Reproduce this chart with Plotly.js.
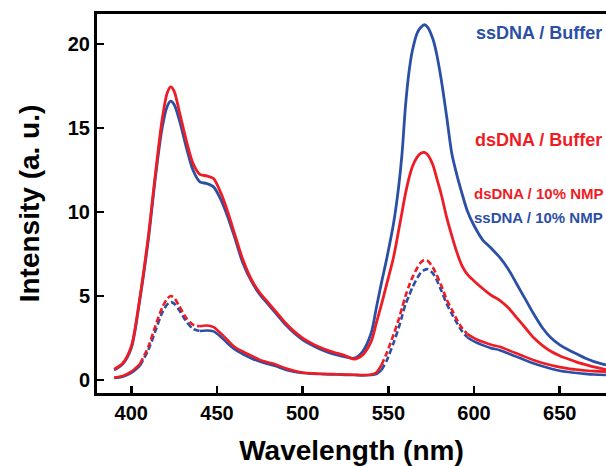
<!DOCTYPE html>
<html>
<head>
<meta charset="utf-8">
<script src="https://cdn.plot.ly/plotly-3.0.1.min.js"></script>
<style>html,body{margin:0;padding:0;background:#fff;}#chart{width:606px;height:466px;}</style>
</head>
<body>
<div id="chart"></div>
<script>
// Wavelength grid (nm)
var wavelength = [390,395,400,405,410,414,418,421,423,425,428,432,436,440,444,448,452,456,460,465,470,475,480,485,490,495,500,505,510,515,520,525,530,535,540,543,546,549,553,556,558,560,562,564,567,569,571,573,576,578,581,584,587,590,593,596,600,605,610,615,620,625,630,635,640,645,650,655,660,665,670,677];

// ssDNA / Buffer (blue, solid)
var ssBuffer = [0.6,0.95,1.9,4.8,8.4,12.0,15.0,16.3,16.6,16.4,15.5,13.9,12.5,11.8,11.7,11.5,10.8,9.8,8.6,7.0,5.9,5.1,4.5,3.9,3.3,2.8,2.4,2.1,1.85,1.65,1.5,1.38,1.3,1.7,2.8,4.3,5.8,7.2,9.3,11.5,13.5,16.3,18.3,19.6,20.7,21.0,21.15,21.0,20.3,19.5,17.8,15.7,13.5,12.2,11.1,10.1,9.2,8.35,7.85,7.3,6.6,5.7,4.8,3.9,3.1,2.5,2.1,1.8,1.55,1.3,1.1,0.9];

// dsDNA / Buffer (red, solid)
var dsBuffer = [0.65,1.0,2.0,4.9,8.6,12.2,15.5,17.1,17.45,17.2,16.0,14.3,12.9,12.25,12.15,12.0,11.2,10.1,8.8,7.2,6.0,5.2,4.6,4.0,3.4,2.9,2.5,2.2,1.95,1.75,1.6,1.45,1.25,1.5,2.3,3.4,4.5,5.7,7.3,8.9,10.0,11.1,12.0,12.7,13.3,13.5,13.55,13.4,12.8,12.1,11.0,9.7,8.6,7.6,6.8,6.3,5.9,5.45,5.05,4.75,4.3,3.7,3.1,2.5,2.05,1.7,1.45,1.25,1.07,0.92,0.78,0.62];

// dsDNA / 10% NMP (red)
var dsNMP = [0.15,0.25,0.5,0.95,2.0,3.2,4.3,4.85,5.0,4.9,4.4,3.7,3.3,3.2,3.25,3.15,2.8,2.4,2.0,1.7,1.45,1.2,1.05,0.9,0.7,0.55,0.45,0.4,0.38,0.36,0.35,0.33,0.32,0.3,0.33,0.45,0.9,1.6,2.7,3.6,4.3,5.0,5.6,6.1,6.7,7.0,7.15,7.1,6.7,6.3,5.6,4.8,4.2,3.6,3.1,2.75,2.5,2.28,2.1,1.98,1.78,1.58,1.38,1.18,1.02,0.88,0.77,0.68,0.62,0.57,0.53,0.5];

// ssDNA / 10% NMP (blue)
var ssNMP = [0.12,0.2,0.42,0.85,1.8,2.9,4.0,4.5,4.65,4.55,4.15,3.5,3.05,2.92,2.95,2.9,2.6,2.2,1.85,1.55,1.3,1.1,0.95,0.8,0.62,0.5,0.42,0.38,0.36,0.34,0.33,0.31,0.3,0.28,0.3,0.36,0.6,1.15,2.2,3.1,3.8,4.5,5.0,5.5,6.1,6.4,6.55,6.6,6.35,6.0,5.3,4.55,3.95,3.4,2.9,2.55,2.3,2.08,1.9,1.78,1.58,1.38,1.18,0.98,0.82,0.68,0.56,0.48,0.42,0.37,0.33,0.3];

// Wavelength ranges where the NMP curves are drawn dashed
var dashRanges = [[405,440],[546,596]];

var tickVals = [400,450,500,550,600,650];
var yTickVals = [0,5,10,15,20];

var BLUE = '#2b4fa5';
var RED = '#ee1d25';

function slice(xs, ys, lo, hi){
  var ox=[], oy=[];
  for (var i=0;i<xs.length;i++){ if (xs[i]>=lo && xs[i]<=hi){ ox.push(xs[i]); oy.push(ys[i]); } }
  return {x:ox, y:oy};
}

function segmentTraces(ys, color){
  var traces = [];
  var bounds = [wavelength[0]];
  dashRanges.forEach(function(r){ bounds.push(r[0]); bounds.push(r[1]); });
  bounds.push(wavelength[wavelength.length-1]);
  for (var k=0;k<bounds.length-1;k++){
    var s = slice(wavelength, ys, bounds[k], bounds[k+1]);
    traces.push({x:s.x, y:s.y, mode:'lines', type:'scatter', showlegend:false, hoverinfo:'skip',
      line:{color:color, width:2.6, shape:'spline', smoothing:0.8, dash:(k%2===1)?'6px,3px':'solid'}});
  }
  return traces;
}

var data = [];
data = data.concat(segmentTraces(ssNMP, BLUE));
data = data.concat(segmentTraces(dsNMP, RED));
data.push({x:wavelength, y:ssBuffer, mode:'lines', type:'scatter', showlegend:false,
  line:{color:BLUE, width:2.8, shape:'spline', smoothing:0.8}});
data.push({x:wavelength, y:dsBuffer, mode:'lines', type:'scatter', showlegend:false,
  line:{color:RED, width:2.8, shape:'spline', smoothing:0.8}});

var FONT = 'Liberation Sans, Arial, sans-serif';

var layout = {
  width:606, height:466,
  margin:{l:97, r:0, t:14, b:73, pad:0},
  paper_bgcolor:'#fff', plot_bgcolor:'#fff',
  showlegend:false,
  font:{family:FONT, color:'#000'},
  xaxis:{
    range:[380,677], tickvals:tickVals, ticktext:tickVals.map(String),
    showline:true, linecolor:'#000', linewidth:3, mirror:true,
    ticks:'inside', ticklen:7, tickwidth:2.5, tickcolor:'#000',
    showgrid:false, zeroline:false,
    tickfont:{family:FONT, size:20, color:'#000', weight:'bold'},
    title:{text:'<b>Wavelength (nm)</b>', font:{family:FONT, size:28, color:'#000'}, standoff:21}
  },
  yaxis:{
    range:[-0.77,21.79], tickvals:yTickVals, ticktext:yTickVals.map(String),
    showline:true, linecolor:'#000', linewidth:3, mirror:false,
    ticks:'inside', ticklen:7, tickwidth:2.5, tickcolor:'#000',
    showgrid:false, zeroline:false,
    tickfont:{family:FONT, size:20, color:'#000', weight:'bold'},
    title:{text:'<b>Intensity (a. u.)</b>', font:{family:FONT, size:28, color:'#000'}, standoff:20}
  },
  annotations:[
    {xref:'paper', yref:'paper', x:1, xanchor:'right', xshift:-2, y:(393-33)/379, yanchor:'middle', showarrow:false,
     text:'<b>ssDNA / Buffer</b>', font:{family:FONT, size:18, color:BLUE}},
    {xref:'paper', yref:'paper', x:1, xanchor:'right', xshift:-2, y:(393-140)/379, yanchor:'middle', showarrow:false,
     text:'<b>dsDNA / Buffer</b>', font:{family:FONT, size:18, color:RED}},
    {xref:'paper', yref:'paper', x:1, xanchor:'right', xshift:-1, y:(393-193)/379, yanchor:'middle', showarrow:false,
     text:'<b>dsDNA / 10% NMP</b>', font:{family:FONT, size:15, color:RED}},
    {xref:'paper', yref:'paper', x:1, xanchor:'right', xshift:-1, y:(393-217)/379, yanchor:'middle', showarrow:false,
     text:'<b>ssDNA / 10% NMP</b>', font:{family:FONT, size:15, color:BLUE}}
  ]
};

Plotly.newPlot('chart', data, layout, {displayModeBar:false, staticPlot:true});
</script>
</body>
</html>
